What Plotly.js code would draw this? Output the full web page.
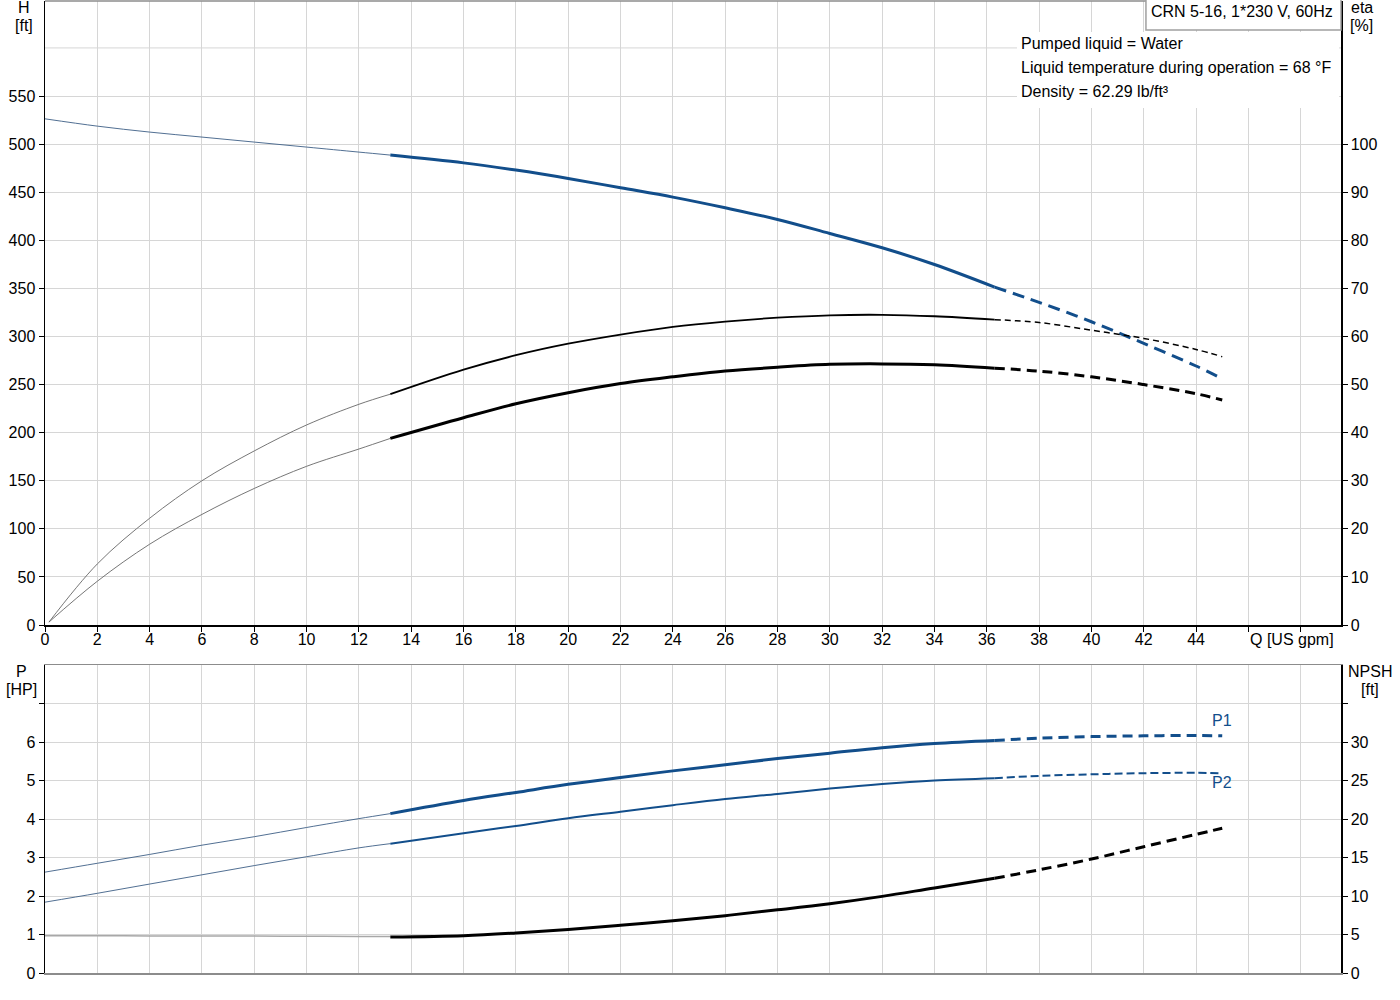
<!DOCTYPE html>
<html>
<head>
<meta charset="utf-8">
<script src="https://cdn.plot.ly/plotly-3.0.1.min.js"></script>
<style>
	body { margin: 0; background: #fff; }
	#plot { width: 1400px; height: 1000px; }
</style>
</head>
<body>
<div id="plot"></div>
<script>
// Flow values [US gpm] for the three parts of each curve
var qThin = [0, 2, 4, 6, 8, 10, 12, 13.2];
var qEtaThin = [0.15, 2, 4, 6, 8, 10, 12, 13.2];
var qMain = [13.2, 16, 18, 20, 22, 24, 26, 28, 30, 32, 34, 36.3];
var qDash = [36.3, 38, 40, 42, 44, 45];
var qDashP2 = [36.3, 38, 40, 42, 44, 44.9];

// Head H [ft]
var hThin = [526.3, 518.7, 512.5, 507.3, 502.1, 496.9, 491.7, 488.6];
var hMain = [488.6, 480.5, 473, 464.3, 454.6, 444.9, 433.8, 421.7, 407.1, 392.2, 374.8, 351.3];
var hDash = [351.3, 335.5, 315.3, 292.8, 269.3, 256.1];

// Efficiency eta [%], upper and lower curve
var etaAThin = [0.6, 12.7, 22.2, 30, 36.2, 41.6, 45.9, 48];
var etaAMain = [48, 53.1, 56.1, 58.5, 60.4, 62.0, 63.1, 63.9, 64.4, 64.5, 64.2, 63.5];
var etaADash = [63.5, 62.9, 61.3, 59.6, 57.3, 55.8];
var etaBThin = [0.6, 9.1, 16.8, 23, 28.4, 33, 36.6, 38.8];
var etaBMain = [38.8, 43.1, 46.0, 48.3, 50.2, 51.6, 52.8, 53.6, 54.2, 54.3, 54.1, 53.4];
var etaBDash = [53.4, 52.8, 51.6, 50.0, 48.1, 46.8];

// Power P1 / P2 [HP]
var p1Thin = [2.62, 2.85, 3.08, 3.32, 3.54, 3.78, 4.01, 4.14];
var p1Main = [4.14, 4.48, 4.69, 4.90, 5.08, 5.25, 5.41, 5.57, 5.71, 5.85, 5.96, 6.04];
var p1Dash = [6.04, 6.10, 6.14, 6.16, 6.17, 6.16];
var p2Thin = [1.84, 2.07, 2.31, 2.55, 2.79, 3.02, 3.25, 3.36];
var p2Main = [3.36, 3.63, 3.82, 4.02, 4.19, 4.36, 4.52, 4.65, 4.79, 4.91, 5.0, 5.06];
var p2Dash = [5.06, 5.12, 5.16, 5.19, 5.20, 5.19];

// NPSH [ft]
var npshThin = [4.85, 4.83, 4.82, 4.8, 4.79, 4.77, 4.75, 4.73];
var npshMain = [4.68, 4.85, 5.2, 5.65, 6.2, 6.8, 7.45, 8.2, 9.0, 9.95, 11.05, 12.3];
var npshDash = [12.3, 13.4, 14.8, 16.4, 18.0, 18.8];

// Axis ticks
var qTicks = [0, 2, 4, 6, 8, 10, 12, 14, 16, 18, 20, 22, 24, 26, 28, 30, 32, 34, 36, 38, 40, 42, 44, 46, 48];
var qTickText = ['0', '2', '4', '6', '8', '10', '12', '14', '16', '18', '20', '22', '24', '26', '28', '30', '32', '34', '36', '38', '40', '42', '44', '', ''];
var hTicks = [0, 50, 100, 150, 200, 250, 300, 350, 400, 450, 500, 550];
var etaTicks = [0, 10, 20, 30, 40, 50, 60, 70, 80, 90, 100];
var pTicks = [0, 1, 2, 3, 4, 5, 6, 7];
var pTickText = ['0', '1', '2', '3', '4', '5', '6', ''];
var npshTicks = [0, 5, 10, 15, 20, 25, 30, 35];
var npshTickText = ['0', '5', '10', '15', '20', '25', '30', ''];

var infoLines = ['Pumped liquid = Water', 'Liquid temperature during operation = 68 °F', 'Density = 62.29 lb/ft³'];
var pumpName = 'CRN 5-16, 1*230 V, 60Hz';

var blue = '#124e8b';
var gridColor = '#d6d6d6';
var fontFam = 'Arial, "Liberation Sans", sans-serif';

function curve(x, y, xa, ya, color, width, dash) {
	return {
		x: x,
		y: y,
		xaxis: xa,
		yaxis: ya,
		mode: 'lines',
		line: {
			color: color,
			width: width,
			dash: dash || 'solid',
			shape: 'spline',
			smoothing: 1
		},
		hoverinfo: 'skip'
	};
}

var data = [
	// top: head
	curve(qThin, hThin, 'x', 'y', '#3d5f86', 0.9),
	curve(qMain, hMain, 'x', 'y', blue, 3),
	curve(qDash, hDash, 'x', 'y', blue, 3, '12px,7px'),
	// top: eta
	curve(qEtaThin, etaAThin, 'x', 'y2', '#666666', 0.9),
	curve(qMain, etaAMain, 'x', 'y2', '#000000', 1.8),
	curve(qDash, etaADash, 'x', 'y2', '#000000', 1.5, '6px,4px'),
	curve(qEtaThin, etaBThin, 'x', 'y2', '#666666', 0.9),
	curve(qMain, etaBMain, 'x', 'y2', '#000000', 3),
	curve(qDash, etaBDash, 'x', 'y2', '#000000', 3, '10px,6px'),
	// bottom: power
	curve(qThin, p1Thin, 'x2', 'y3', '#3d5f86', 0.9),
	curve(qMain, p1Main, 'x2', 'y3', blue, 3),
	curve(qDash, p1Dash, 'x2', 'y3', blue, 3, '10px,6px'),
	curve(qThin, p2Thin, 'x2', 'y3', '#3d5f86', 0.9),
	curve(qMain, p2Main, 'x2', 'y3', blue, 2),
	curve(qDashP2, p2Dash, 'x2', 'y3', blue, 2, '8px,4px'),
	// bottom: npsh
	curve(qThin, npshThin, 'x2', 'y4', '#a8a8a8', 1.5),
	curve(qMain, npshMain, 'x2', 'y4', '#000000', 3),
	curve(qDash, npshDash, 'x2', 'y4', '#000000', 3, '10px,6px')
];

var tickFont = { family: fontFam, size: 16, color: '#000' };

function label(text, x, y, xref, color) {
	return {
		text: text,
		x: x,
		y: y,
		xref: xref || 'paper',
		yref: 'paper',
		xanchor: 'center',
		yanchor: 'middle',
		showarrow: false,
		font: { family: fontFam, size: 16, color: color || '#000' }
	};
}

var annotations = [
	label('H', -0.0162, 0.9928),
	label('[ft]', -0.0162, 0.9753),
	label('eta', 1.0162, 0.9928),
	label('[%]', 1.0162, 0.9753),
	label('P', -0.0178, 0.3097),
	label('[HP]', -0.0178, 0.2912),
	label('NPSH', 1.0224, 0.3097),
	label('[ft]', 1.0224, 0.2912),
	label('Q [US gpm]', 47.67, 0.3436, 'x'),
	label('P1', 45.0, 0.2593, 'x2', blue),
	label('P2', 45.0, 0.1965, 'x2', blue),
	label(pumpName, 0.9236, 0.9887)
];

var infoY = [0.9558, 0.9311, 0.9064];
for (var i = 0; i < infoLines.length; i++) {
	var a = label(infoLines[i], 0.7516, infoY[i]);
	a.xanchor = 'left';
	annotations.push(a);
}

var shapes = [
	// gridline at 600 ft without a tick
	{ type: 'line', xref: 'paper', yref: 'y', x0: 0, x1: 1, y0: 600, y1: 600, layer: 'below', line: { color: gridColor, width: 1 } },
	// top frame of the upper plot
	{ type: 'line', xref: 'paper', yref: 'paper', x0: 0, x1: 1, y0: 1, y1: 1, line: { color: '#8c8c8c', width: 1.5 } },
	// white box behind the liquid info
	{ type: 'rect', xref: 'paper', yref: 'paper', x0: 0.75, x1: 0.9985, y0: 0.8899, y1: 0.9681, layer: 'above', fillcolor: '#ffffff', line: { width: 0 } },
	// pump name box
	{ type: 'rect', xref: 'paper', yref: 'paper', x0: 0.8495, x1: 1, y0: 0.9702, y1: 1.002, layer: 'above', fillcolor: '#ffffff', line: { color: '#a0a0a0', width: 1.5 } }
];

var layout = {
	width: 1400,
	height: 1000,
	autosize: false,
	showlegend: false,
	hovermode: false,
	paper_bgcolor: '#ffffff',
	plot_bgcolor: '#ffffff',
	margin: { l: 45, r: 59, t: 1, b: 27 },
	font: { family: fontFam, size: 16, color: '#000' },
	xaxis: {
		domain: [0, 1],
		anchor: 'y',
		range: [0, 49.54],
		tickvals: qTicks,
		ticktext: qTickText,
		ticks: 'outside',
		ticklen: 5,
		tickcolor: '#000',
		tickfont: tickFont,
		ticklabelstandoff: -6,
		showline: true,
		linecolor: '#000',
		linewidth: 1.5,
		showgrid: true,
		gridcolor: gridColor,
		zeroline: false
	},
	yaxis: {
		domain: [0.35802, 1],
		anchor: 'x',
		range: [0, 648.8],
		tickvals: hTicks,
		ticks: 'outside',
		ticklen: 5,
		tickcolor: '#000',
		tickfont: tickFont,
		showline: true,
		linecolor: '#000',
		linewidth: 1.5,
		showgrid: true,
		gridcolor: gridColor,
		zeroline: false
	},
	yaxis2: {
		overlaying: 'y',
		anchor: 'x',
		side: 'right',
		range: [0, 129.76],
		tickvals: etaTicks,
		ticks: 'outside',
		ticklen: 5,
		tickcolor: '#000',
		tickfont: tickFont,
		showline: true,
		linecolor: '#000',
		linewidth: 1.5,
		showgrid: false,
		zeroline: false
	},
	xaxis2: {
		domain: [0, 1],
		anchor: 'y3',
		range: [0, 49.54],
		tickvals: qTicks,
		showticklabels: false,
		ticks: '',
		showline: true,
		mirror: true,
		linecolor: '#8c8c8c',
		linewidth: 1.5,
		showgrid: true,
		gridcolor: gridColor,
		zeroline: false
	},
	yaxis3: {
		domain: [0, 0.31687],
		anchor: 'x2',
		range: [0, 8.0],
		tickvals: pTicks,
		ticktext: pTickText,
		ticks: 'outside',
		ticklen: 5,
		tickcolor: '#000',
		tickfont: tickFont,
		showline: true,
		linecolor: '#000',
		linewidth: 1.5,
		showgrid: true,
		gridcolor: gridColor,
		zeroline: false
	},
	yaxis4: {
		overlaying: 'y3',
		anchor: 'x2',
		side: 'right',
		range: [0, 40.0],
		tickvals: npshTicks,
		ticktext: npshTickText,
		ticks: 'outside',
		ticklen: 5,
		tickcolor: '#000',
		tickfont: tickFont,
		showline: true,
		linecolor: '#000',
		linewidth: 1.5,
		showgrid: false,
		zeroline: false
	},
	annotations: annotations,
	shapes: shapes
};

Plotly.newPlot('plot', data, layout, { staticPlot: true, displayModeBar: false });
</script>
</body>
</html>
